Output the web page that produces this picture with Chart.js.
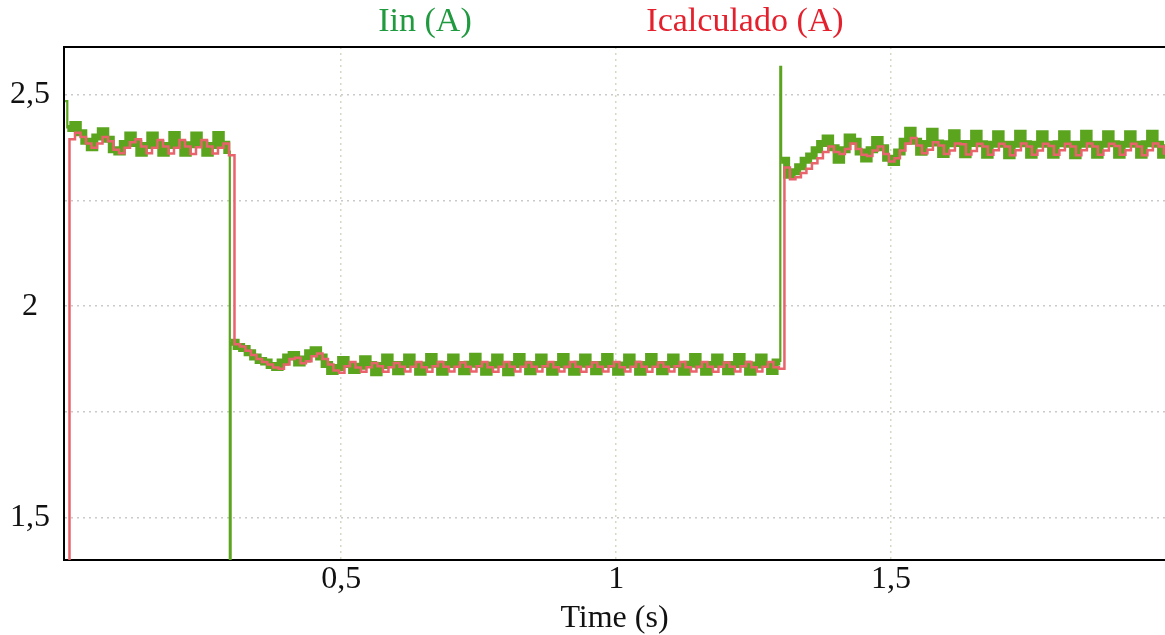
<!DOCTYPE html>
<html><head><meta charset="utf-8"><title>Iin / Icalculado</title>
<script src="https://cdn.jsdelivr.net/npm/chart.js@4.4.1/dist/chart.umd.min.js"></script>
<style>html,body{margin:0;padding:0;background:#fff}canvas{display:block}</style>
</head><body>
<canvas id="chart" width="1165" height="635"></canvas>
<script>
// names + sampling step (10 ms) of the scope export
const seriesNames=['Iin (A)','Icalculado (A)'];
const stepT=0.01;
// Iin, one value per step; phases start at these times
const iinStart=[0.002,0.299,1.300];
const iinPhase1=[2.420,2.430,2.410,2.390,2.375,2.400,2.415,2.395,2.370,2.365,
  2.385,2.405,2.385,2.362,2.380,2.405,2.385,2.362,2.380,2.406,
  2.385,2.362,2.382,2.405,2.384,2.362,2.380,2.406,2.383,2.368];
const iinPhase2=[1.915,1.905,1.900,1.890,1.880,1.872,1.868,1.860,1.855,1.868,
  1.880,1.886,1.866,1.875,1.890,1.897,1.880,1.862,1.846,1.855,
  1.874,1.862,1.848,1.858,1.876,1.862,1.843,1.860,1.880,1.862,
  1.845,1.862,1.880,1.862,1.844,1.861,1.881,1.863,1.844,1.862,
  1.880,1.862,1.845,1.863,1.882,1.862,1.844,1.861,1.880,1.862,
  1.843,1.862,1.881,1.863,1.845,1.862,1.880,1.862,1.844,1.862,
  1.881,1.861,1.844,1.863,1.880,1.862,1.845,1.862,1.881,1.862,
  1.844,1.861,1.880,1.863,1.844,1.862,1.881,1.862,1.845,1.862,
  1.880,1.862,1.844,1.863,1.881,1.861,1.844,1.862,1.880,1.862,
  1.845,1.862,1.881,1.863,1.844,1.861,1.880,1.862,1.846,1.868];
const iinPhase3=[2.345,2.310,2.318,2.330,2.345,2.355,2.370,2.385,2.398,2.375,
  2.345,2.370,2.400,2.390,2.365,2.348,2.370,2.394,2.375,2.350,
  2.340,2.365,2.390,2.416,2.390,2.364,2.385,2.414,2.386,2.359,
  2.384,2.410,2.385,2.358,2.385,2.409,2.384,2.357,2.383,2.408,
  2.383,2.356,2.383,2.409,2.384,2.357,2.383,2.408,2.383,2.357,
  2.384,2.408,2.383,2.356,2.383,2.409,2.383,2.357,2.383,2.408,
  2.384,2.357,2.383,2.408,2.383,2.357,2.384,2.409,2.383,2.357,
  2.383];
// short transients (time, value): start, drop at 0.3 s, spike at 1.3 s
const iinEvents=[[-0.002,2.485],[0.2975,2.368],[0.2975,1.2],[1.2985,1.868],[1.2985,2.566]];
// Icalculado
const icalcStart=[0.006,0.306,1.306];
const icalcPhase1=[2.395,2.410,2.400,2.385,2.375,2.385,2.400,2.390,2.370,2.362,
  2.375,2.388,2.395,2.378,2.362,2.375,2.393,2.378,2.361,2.375,
  2.393,2.378,2.360,2.376,2.393,2.378,2.361,2.375,2.385,2.357];
const icalcPhase2=[1.910,1.905,1.895,1.885,1.875,1.868,1.862,1.855,1.852,1.862,
  1.875,1.878,1.865,1.870,1.882,1.888,1.875,1.862,1.848,1.843,
  1.858,1.868,1.855,1.845,1.856,1.866,1.858,1.845,1.856,1.866,
  1.857,1.846,1.857,1.868,1.856,1.845,1.858,1.868,1.857,1.846,
  1.857,1.867,1.857,1.846,1.858,1.868,1.856,1.845,1.857,1.868,
  1.857,1.846,1.857,1.867,1.857,1.846,1.858,1.868,1.856,1.846,
  1.857,1.868,1.857,1.845,1.857,1.867,1.857,1.846,1.858,1.868,
  1.856,1.846,1.857,1.868,1.857,1.845,1.857,1.867,1.857,1.846,
  1.858,1.868,1.856,1.846,1.857,1.868,1.857,1.845,1.857,1.867,
  1.857,1.846,1.858,1.868,1.856,1.846,1.857,1.868,1.856,1.852];
const icalcPhase3=[2.328,2.300,2.305,2.315,2.325,2.338,2.350,2.365,2.378,2.365,
  2.360,2.372,2.385,2.372,2.358,2.355,2.368,2.378,2.360,2.342,
  2.350,2.368,2.385,2.398,2.380,2.362,2.370,2.388,2.380,2.360,
  2.368,2.385,2.383,2.359,2.367,2.384,2.378,2.358,2.369,2.384,
  2.378,2.357,2.369,2.385,2.378,2.358,2.368,2.384,2.379,2.358,
  2.369,2.384,2.378,2.357,2.369,2.385,2.378,2.358,2.368,2.384,
  2.379,2.358,2.369,2.384,2.378,2.357,2.369,2.385,2.378,2.358];
const icalcEvents=[[0,0]];
// axes
const xTicks=[0.5,1,1.5];
const yTicks=[1.5,1.75,2,2.25,2.5];
const yLabelTicks=[1.5,2,2.5];

(function(){
  // samples hold their value until the next one (stepped:'before' in Chart.js terms)
  const toPts=(starts,phases,events)=>{
    const pts=[];
    phases.forEach((arr,k)=>arr.forEach((v,i)=>pts.push({x:+(starts[k]+i*stepT).toFixed(4),y:v})));
    events.forEach(([x,y])=>pts.push({x,y}));
    return pts.sort((a,b)=>a.x-b.x);
  };
  const fmt=v=>String(v).replace('.',',');
  const serif='"Liberation Serif","Times New Roman",serif';
  const font={family:serif,size:32,lineHeight:1};
  // two coloured series names above the plot
  const header={id:'header',afterDraw(c){
    const ctx=c.ctx; ctx.save(); ctx.font='34px '+serif; ctx.textAlign='center'; ctx.textBaseline='middle';
    [[seriesNames[0],'#1f9a3f',425],[seriesNames[1],'#e3202c',745]].forEach(([t,col,x])=>{ctx.fillStyle=col; ctx.fillText(t,x,22);});
    ctx.restore();
  }};
  new Chart(document.getElementById('chart'),{
    type:'line',
    data:{datasets:[
      {label:seriesNames[1],data:toPts(icalcStart,[icalcPhase1,icalcPhase2,icalcPhase3],icalcEvents),xAxisID:'x',yAxisID:'y',
        borderColor:'#e8636b',borderWidth:2.5,stepped:'before',pointRadius:0,clip:0,order:1},
      {label:seriesNames[0],data:toPts(iinStart,[iinPhase1,iinPhase2,iinPhase3],iinEvents),xAxisID:'x',yAxisID:'y',
        borderColor:'#5aa41e',borderWidth:7,borderJoinStyle:'miter',stepped:'before',pointRadius:0,clip:0,order:2,
        segment:{borderWidth:ctx=>Math.abs(ctx.p1.parsed.y-ctx.p0.parsed.y)>0.05?2.2:undefined}}
    ]},
    options:{responsive:false,animation:false,events:[],
      layout:{padding:{left:-4,top:47,right:0,bottom:0}},
      plugins:{legend:{display:false},tooltip:{enabled:false}},
      scales:{
        x:{type:'linear',position:'bottom',min:-0.004,max:1.998,
          afterBuildTicks:s=>{s.ticks=xTicks.map(v=>({value:v}));},
          ticks:{font,color:'#111',padding:4,maxRotation:0,autoSkip:false,callback:v=>fmt(v)},
          grid:{color:'#d2d9c4',lineWidth:1.5,drawTicks:false},
          border:{color:'#000',width:2,dash:[2,4]},
          title:{display:true,text:'Time (s)',font,color:'#111',padding:{top:3,bottom:0}}},
        xTop:{type:'linear',position:'top',display:true,min:0,max:1,
          ticks:{display:false},grid:{display:false,drawTicks:false},border:{color:'#000',width:2}},
        y:{type:'linear',position:'left',min:1.4,max:2.613,
          afterBuildTicks:s=>{s.ticks=yTicks.map(v=>({value:v}));},
          ticks:{font,color:'#111',padding:14,crossAlign:'center',autoSkip:false,callback:v=>yLabelTicks.includes(v)?fmt(v):''},
          grid:{color:'#cacaca',lineWidth:1.5,drawTicks:false},
          border:{color:'#000',width:2,dash:[2,4]}}
      }
    },
    plugins:[header]
  });
})();
</script>
</body></html>
